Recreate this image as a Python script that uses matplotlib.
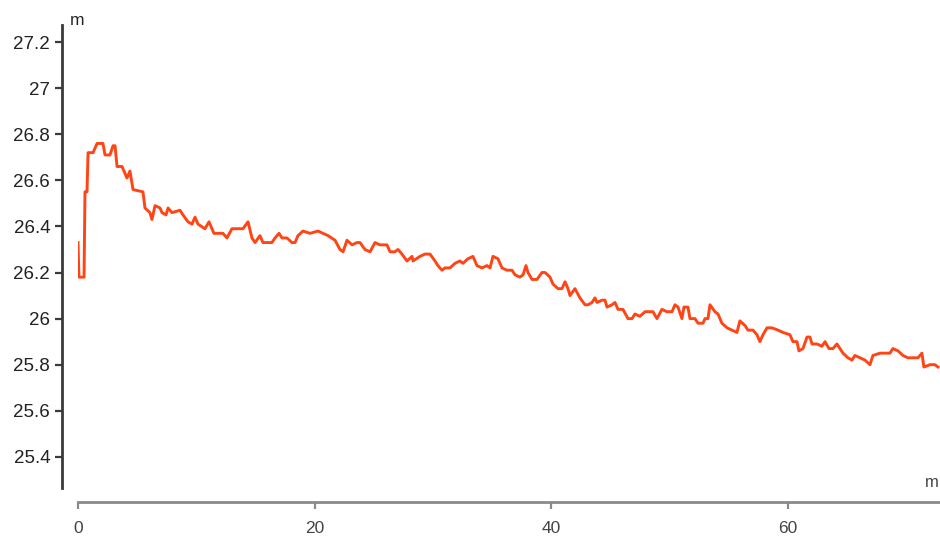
import matplotlib
matplotlib.use("Agg")
import matplotlib.pyplot as plt

x_values = [0.00, 0.08, 0.51, 0.59, 0.76, 0.85, 1.27, 1.44, 1.61, 2.11, 2.28, 2.70, 2.96, 3.13, 3.30, 3.72,
            3.97, 4.14, 4.39, 4.65, 5.49, 5.66, 6.08, 6.25, 6.51, 6.93, 7.10, 7.44, 7.61, 7.94, 8.62, 8.87,
            9.30, 9.63, 9.89, 10.14, 10.73, 11.07, 11.49, 12.00, 12.25, 12.59, 13.01, 13.44, 13.94, 14.37,
            14.70, 14.96, 15.38, 15.63, 16.39, 16.65, 16.99, 17.24, 17.66, 18.08, 18.34, 18.59, 19.01, 19.61,
            20.28, 20.70, 21.13, 21.72, 22.14, 22.40, 22.73, 23.16, 23.58, 23.83, 24.25, 24.68, 25.10, 25.52,
            26.11, 26.37, 26.79, 27.04, 27.38, 27.80, 28.23, 28.31, 28.90, 29.32, 29.75, 30.17, 30.42, 30.76,
            31.01, 31.44, 31.86, 32.28, 32.54, 32.96, 33.38, 33.72, 34.14, 34.56, 34.82, 35.07, 35.49, 35.83,
            36.25, 36.68, 36.93, 37.35, 37.61, 37.86, 38.03, 38.37, 38.79, 39.21, 39.47, 39.89, 40.14, 40.56,
            40.90, 41.16, 41.41, 41.58, 42.00, 42.42, 42.85, 43.10, 43.44, 43.69, 43.86, 44.28, 44.54, 44.71,
            45.13, 45.38, 45.64, 46.06, 46.48, 46.82, 47.07, 47.49, 47.92, 48.59, 48.93, 49.35, 49.77, 50.20,
            50.45, 50.71, 51.04, 51.21, 51.55, 51.72, 52.14, 52.40, 52.82, 52.99, 53.24, 53.41, 53.83, 54.09,
            54.42, 54.85, 55.27, 55.69, 55.94, 56.37, 56.62, 57.04, 57.38, 57.63, 57.89, 58.23, 58.65, 59.16,
            59.58, 60.17, 60.42, 60.76, 60.93, 61.27, 61.61, 61.86, 62.03, 62.45, 62.87, 63.13, 63.47, 63.80,
            64.14, 64.40, 64.65, 65.07, 65.41, 65.66, 66.08, 66.51, 66.93, 67.18, 67.78, 68.62, 68.87, 69.30,
            69.72, 70.14, 70.56, 70.99, 71.32, 71.49, 72.00, 72.42, 72.68]

y_values = [26.33, 26.18, 26.18, 26.55, 26.55, 26.72, 26.72, 26.74, 26.76, 26.76, 26.71, 26.71, 26.75, 26.75, 26.66, 26.66,
            26.63, 26.61, 26.64, 26.56, 26.55, 26.48, 26.46, 26.43, 26.49, 26.48, 26.46, 26.45, 26.48, 26.46, 26.47, 26.45,
            26.42, 26.41, 26.44, 26.41, 26.39, 26.42, 26.37, 26.37, 26.37, 26.35, 26.39, 26.39, 26.39, 26.42,
            26.35, 26.33, 26.36, 26.33, 26.33, 26.35, 26.37, 26.35, 26.35, 26.33, 26.33, 26.36, 26.38, 26.37,
            26.38, 26.37, 26.36, 26.34, 26.30, 26.29, 26.34, 26.32, 26.33, 26.33, 26.30, 26.29, 26.33, 26.32,
            26.32, 26.29, 26.29, 26.30, 26.28, 26.25, 26.27, 26.25, 26.27, 26.28, 26.28, 26.25, 26.23, 26.21,
            26.22, 26.22, 26.24, 26.25, 26.24, 26.26, 26.27, 26.23, 26.22, 26.23, 26.22, 26.27, 26.26, 26.22,
            26.21, 26.21, 26.19, 26.18, 26.19, 26.23, 26.20, 26.17, 26.17, 26.20, 26.20, 26.18, 26.15, 26.13,
            26.13, 26.16, 26.13, 26.10, 26.13, 26.09, 26.06, 26.06, 26.07, 26.09, 26.07, 26.08, 26.08, 26.05,
            26.06, 26.07, 26.04, 26.04, 26.00, 26.00, 26.02, 26.01, 26.03, 26.03, 26.00, 26.04, 26.03, 26.03,
            26.06, 26.05, 26.00, 26.05, 26.05, 26.00, 26.00, 25.98, 25.98, 26.00, 26.00, 26.06, 26.03, 26.02,
            25.98, 25.96, 25.95, 25.94, 25.99, 25.97, 25.95, 25.95, 25.93, 25.90, 25.93, 25.96, 25.96, 25.95,
            25.94, 25.93, 25.90, 25.90, 25.86, 25.87, 25.92, 25.92, 25.89, 25.89, 25.88, 25.90, 25.87, 25.87,
            25.89, 25.87, 25.85, 25.83, 25.82, 25.84, 25.83, 25.82, 25.80, 25.84, 25.85, 25.85, 25.87, 25.86,
            25.84, 25.83, 25.83, 25.83, 25.85, 25.79, 25.80, 25.80, 25.79]

x_ticks = [0, 20, 40, 60]
y_ticks = [25.4, 25.6, 25.8, 26.0, 26.2, 26.4, 26.6, 26.8, 27.0, 27.2]
y_tick_labels = ["25.4", "25.6", "25.8", "26", "26.2", "26.4", "26.6", "26.8", "27", "27.2"]
x_unit = "m"
y_unit = "m"

plt.rcParams['font.family'] = ['Liberation Sans', 'DejaVu Sans']

fig = plt.figure(figsize=(9.4, 5.36), dpi=100)
ax = fig.add_axes([78/940, 48/536, 862/940, 463/536])

ax.plot(x_values, y_values, color='#ff4515', linewidth=2.1, solid_joinstyle='round')

ax.set_xlim(0, 72.85)
ax.set_ylim(25.265, 27.274)
ax.set_xticks(x_ticks)
ax.set_xticklabels([str(t) for t in x_ticks])
ax.set_yticks(y_ticks)
ax.set_yticklabels(y_tick_labels)

for s in ['top', 'right']:
    ax.spines[s].set_visible(False)
ax.spines['left'].set_position(('outward', 11.5))
ax.spines['bottom'].set_position(('outward', 10))
ax.spines['left'].set_color('#3a3a3a')
ax.spines['left'].set_linewidth(2.0)
ax.spines['bottom'].set_color('#8a8a8a')
ax.spines['bottom'].set_linewidth(2.0)

ax.tick_params(axis='y', length=5, width=1.6, color='#3a3a3a', labelsize=13.5,
               labelcolor='#222222', pad=3.5)
ax.tick_params(axis='x', length=5, width=1.6, color='#8a8a8a', labelsize=12.5,
               labelcolor='#444444', pad=9)

fig.text(70/940, 1 - 25/536, y_unit, ha='left', va='baseline', fontsize=12.5, color='#222222')
fig.text(939/940, 1 - 487/536, x_unit, ha='right', va='baseline', fontsize=12, color='#444444')

fig.savefig('out.png', dpi=100)
